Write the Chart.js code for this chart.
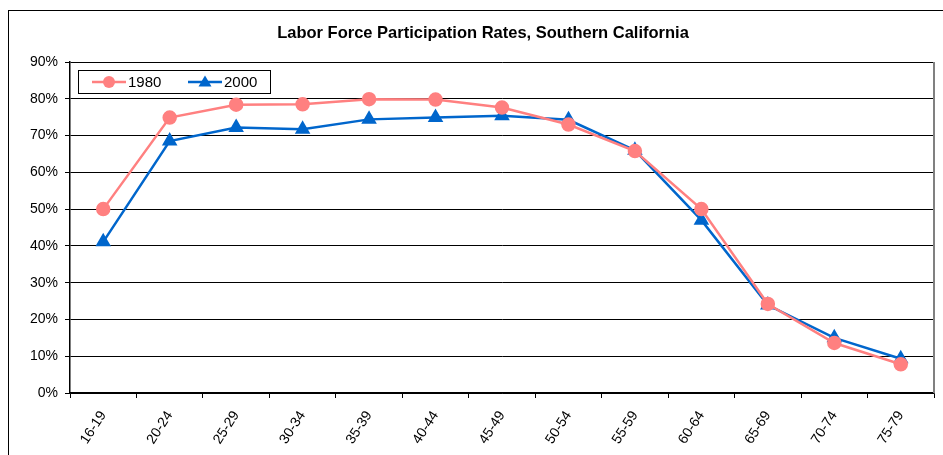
<!DOCTYPE html>
<html>
<head>
<meta charset="utf-8">
<script src="https://cdn.jsdelivr.net/npm/chart.js@4"></script>
<style>
  html, body { margin: 0; padding: 0; background: #fff; }
  #wrap { width: 943px; height: 455px; position: relative; }
</style>
</head>
<body>
<div id="wrap"><canvas id="lfpr"></canvas></div>
<script>
// age groups and rates (%)
const ageGroups = ['16-19', '20-24', '25-29', '30-34', '35-39', '40-44', '45-49',
                   '50-54', '55-59', '60-64', '65-69', '70-74', '75-79'];
const rate1980 = [50.0, 74.9, 78.4, 78.5, 79.9, 79.8, 77.6, 73.0, 65.8, 50.0, 24.2, 13.6, 7.8];
const rate2000 = [41.1, 68.5, 72.2, 71.7, 74.4, 74.9, 75.4, 74.3, 66.0, 47.0, 23.9, 15.0, 9.3];
const yTicks = [0, 10, 20, 30, 40, 50, 60, 70, 80, 90];

const FONT = 'Liberation Sans, Arial, sans-serif';

// frame, title and boxed legend drawn like the Excel original
const excelFrame = {
    id: 'excelFrame',
    afterDraw(chart) {
        const ctx = chart.ctx;
        const a = chart.chartArea;
        ctx.save();
        // outer chart border (runs off the picture at right and bottom)
        ctx.strokeStyle = '#000';
        ctx.lineWidth = 1;
        ctx.strokeRect(8.5, 10.5, 1000, 500);
        // plot area right edge
        ctx.strokeStyle = '#808080';
        ctx.lineWidth = 2;
        ctx.beginPath();
        ctx.moveTo(a.right, a.top);
        ctx.lineTo(a.right, a.bottom);
        ctx.stroke();

        // title
        ctx.fillStyle = '#000';
        ctx.font = 'bold 16.5px ' + FONT;
        ctx.textAlign = 'center';
        ctx.textBaseline = 'middle';
        ctx.fillText('Labor Force Participation Rates, Southern California', 483, 33);

        // legend box
        ctx.fillStyle = '#fff';
        ctx.fillRect(78, 70, 192, 23);
        ctx.strokeStyle = '#000';
        ctx.lineWidth = 1;
        ctx.strokeRect(78.5, 70.5, 192, 23);
        const items = [{ x: 92, tx: 128 }, { x: 188, tx: 224 }];
        chart.data.datasets.forEach((ds, i) => {
            const it = items[i];
            const y = 82;
            ctx.strokeStyle = ds.borderColor;
            ctx.lineWidth = ds.borderWidth;
            ctx.beginPath();
            ctx.moveTo(it.x, y);
            ctx.lineTo(it.x + 34, y);
            ctx.stroke();
            ctx.fillStyle = ds.pointBackgroundColor;
            ctx.beginPath();
            if (ds.pointStyle === 'circle') {
                ctx.arc(it.x + 17, y, ds.pointRadius, 0, Math.PI * 2);
            } else {
                const r = ds.pointRadius;
                ctx.moveTo(it.x + 17, y - r);
                ctx.lineTo(it.x + 17 + r, y + r * 0.7);
                ctx.lineTo(it.x + 17 - r, y + r * 0.7);
                ctx.closePath();
            }
            ctx.fill();
            ctx.fillStyle = '#000';
            ctx.font = '15px ' + FONT;
            ctx.textAlign = 'left';
            ctx.textBaseline = 'middle';
            ctx.fillText(ds.label, it.tx, y + 1);
        });
        ctx.restore();
    }
};

new Chart(document.getElementById('lfpr'), {
    type: 'line',
    data: {
        labels: ageGroups,
        datasets: [
            {
                label: '1980',
                data: rate1980,
                borderColor: '#FF8080',
                backgroundColor: '#FF8080',
                pointBackgroundColor: '#FF8080',
                pointBorderColor: '#FF8080',
                borderWidth: 2.5,
                pointStyle: 'circle',
                pointRadius: 6,
                tension: 0
            },
            {
                label: '2000',
                data: rate2000,
                borderColor: '#0066CC',
                backgroundColor: '#0066CC',
                pointBackgroundColor: '#0066CC',
                pointBorderColor: '#0066CC',
                borderWidth: 2.5,
                pointStyle: 'triangle',
                pointRadius: 6.5,
                tension: 0
            }
        ]
    },
    options: {
        responsive: true,
        maintainAspectRatio: false,
        animation: false,
        layout: { padding: { top: 62, right: 1, left: 0, bottom: 0 } },
        plugins: {
            legend: { display: false },
            title: { display: false },
            tooltip: { enabled: false }
        },
        scales: {
            x: {
                offset: true,
                grid: {
                    offset: true,
                    drawOnChartArea: false,
                    color: '#000',
                    tickLength: 5
                },
                border: { color: '#000', width: 1.5 },
                ticks: {
                    color: '#000',
                    font: { family: FONT, size: 14 },
                    minRotation: 57,
                    maxRotation: 57,
                    padding: 10,
                    autoSkip: false
                },
                afterFit: s => {
                    s.height = 62;
                    s.paddingLeft = 0;
                    s.paddingRight = 0;
                }
            },
            y: {
                min: 0,
                max: 90,
                afterBuildTicks: s => { s.ticks = yTicks.map(v => ({ value: v })); },
                grid: {
                    color: '#000',
                    lineWidth: 1,
                    tickLength: 5
                },
                border: { color: '#000', width: 1.5 },
                ticks: {
                    color: '#000',
                    font: { family: FONT, size: 14 },
                    padding: 7,
                    callback: v => v + '%'
                },
                afterFit: s => { s.width = 70; }
            }
        }
    },
    plugins: [excelFrame]
});
</script>
</body>
</html>
